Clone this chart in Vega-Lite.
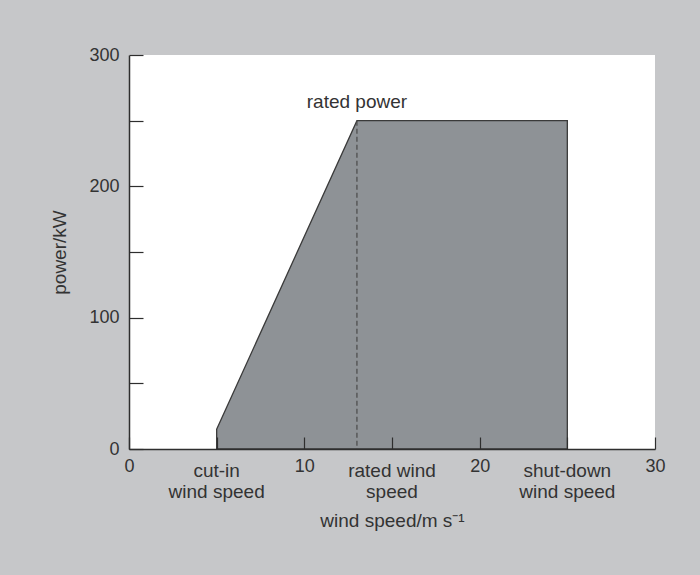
{
  "$schema": "https://vega.github.io/schema/vega-lite/v6.json",
  "width": 526,
  "height": 394,
  "autosize": {"type": "none"},
  "padding": {"left": 129, "top": 55, "right": 45, "bottom": 126},
  "background": "#c6c7c9",
  "config": {
    "view": {"fill": "#ffffff", "stroke": null},
    "font": "Liberation Sans",
    "text": {"font": "Liberation Sans"}
  },
  "datasets": {
    "curve": [
      {"speed": 5, "power": 15},
      {"speed": 13, "power": 250},
      {"speed": 25, "power": 250}
    ],
    "rated": [{"speed": 13, "power": 250}],
    "top_label": [{"speed": 13, "power": 264, "label": "rated power"}],
    "bottom_labels": [
      {"speed": 5, "power": -10, "label": ["cut-in", "wind speed"]},
      {"speed": 15, "power": -10, "label": ["rated wind", "speed"]},
      {"speed": 25, "power": -10, "label": ["shut-down", "wind speed"]}
    ]
  },
  "encoding": {
    "x": {
      "field": "speed",
      "type": "quantitative",
      "scale": {"domain": [0, 30], "nice": false},
      "axis": {
        "title": "wind speed/m s⁻¹",
        "values": [0, 5, 10, 15, 20, 25, 30],
        "labelExpr": "datum.value % 10 === 0 ? datum.label : ''",
        "tickSize": -12,
        "labelPadding": 20,
        "labelFlush": false,
        "grid": false,
        "zindex": 1,
        "domainColor": "#2e2e2e",
        "domainWidth": 1.5,
        "tickColor": "#2e2e2e",
        "tickWidth": 1.2,
        "labelFontSize": 18,
        "labelColor": "#333333",
        "titleFontSize": 19,
        "titleFontWeight": "normal",
        "titleColor": "#333333",
        "titlePadding": 36
      }
    },
    "y": {
      "field": "power",
      "type": "quantitative",
      "scale": {"domain": [0, 300], "nice": false},
      "axis": {
        "title": "power/kW",
        "values": [0, 50, 100, 150, 200, 250, 300],
        "labelExpr": "datum.value % 100 === 0 ? datum.label : ''",
        "tickSize": -14,
        "labelPadding": 24,
        "grid": false,
        "zindex": 1,
        "domainColor": "#2e2e2e",
        "domainWidth": 1.5,
        "tickColor": "#2e2e2e",
        "tickWidth": 1.2,
        "labelFontSize": 18,
        "labelColor": "#333333",
        "titleFontSize": 19,
        "titleFontWeight": "normal",
        "titleColor": "#333333",
        "titlePadding": 19
      }
    }
  },
  "layer": [
    {
      "data": {"name": "curve"},
      "mark": {"type": "area", "fill": "#8e9296", "stroke": "#3a3a3a", "strokeWidth": 1.3}
    },
    {
      "data": {"name": "rated"},
      "mark": {"type": "rule", "color": "#4a4a4a", "strokeDash": [5, 3], "strokeWidth": 1.2},
      "encoding": {"y2": {"datum": 0}}
    },
    {
      "data": {"name": "top_label"},
      "mark": {"type": "text", "fontSize": 19, "color": "#333333", "align": "center", "baseline": "middle"},
      "encoding": {"text": {"field": "label"}}
    },
    {
      "data": {"name": "bottom_labels"},
      "mark": {"type": "text", "fontSize": 19, "color": "#333333", "align": "center", "baseline": "top", "lineHeight": 21},
      "encoding": {"text": {"field": "label"}}
    }
  ]
}
